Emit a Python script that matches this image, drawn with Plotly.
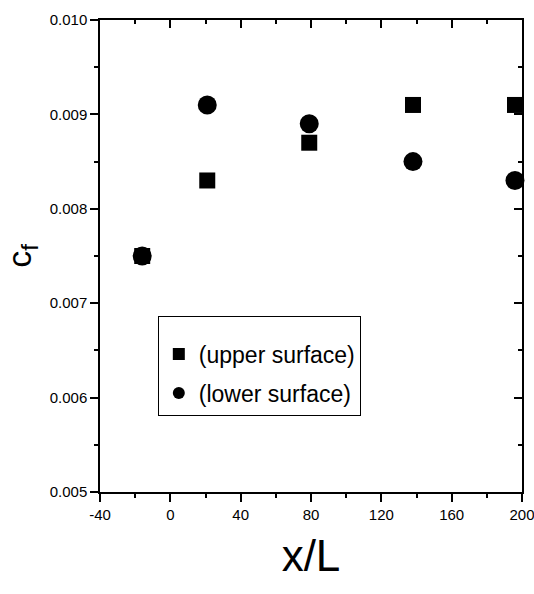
import plotly.graph_objects as go

x_pos = [-16, 21, 79, 138, 196]
cf_upper = [0.0075, 0.0083, 0.0087, 0.0091, 0.0091]
cf_lower = [0.0075, 0.0091, 0.0089, 0.0085, 0.0083]
x_ticks = [-40, 0, 40, 80, 120, 160, 200]
x_tick_labels = ["-40", "0", "40", "80", "120", "160", "200"]
x_range = [-40, 200]
y_range = [0.005, 0.010]

FONT = "Liberation Sans Narrow, Arial Narrow, Liberation Sans, Arial, sans-serif"

fig = go.Figure()
fig.add_trace(go.Scatter(x=x_pos, y=cf_upper, mode="markers", name="(upper surface)",
                         legendgroup="u", cliponaxis=False,
                         marker=dict(symbol="square", size=16, color="black")))
fig.add_trace(go.Scatter(x=x_pos, y=cf_lower, mode="markers", name="(lower surface)",
                         legendgroup="l", cliponaxis=False,
                         marker=dict(symbol="circle", size=19, color="black")))
# helper trace for mirrored inward ticks (top/right)
fig.add_trace(go.Scatter(x=[None], y=[None], xaxis="x2", yaxis="y2",
                         showlegend=False, hoverinfo="skip"))

axis_common = dict(showline=True, linecolor="black", linewidth=1.5, showgrid=False,
                   zeroline=False, tickcolor="black", tickwidth=1.5,
                   ticklabeloverflow="allow", automargin=False,
                   tickfont=dict(family=FONT, size=15, color="black"))

fig.update_layout(
    width=534, height=594,
    margin=dict(l=100, r=12, t=20, b=102),
    plot_bgcolor="white", paper_bgcolor="white",
    font=dict(family=FONT, color="black"),
    xaxis=dict(range=x_range, tickmode="array", tickvals=x_ticks, ticktext=x_tick_labels,
               ticks="outside", ticklen=8,
               minor=dict(ticks="outside", ticklen=4, dtick=20, tick0=-40,
                          tickcolor="black", tickwidth=1.5),
               title=dict(text="x/L", font=dict(family=FONT, size=44), standoff=18),
               **axis_common),
    yaxis=dict(range=y_range, tick0=0.005, dtick=0.001, ticks="outside", ticklen=8,
               tickformat=".3f",
               minor=dict(ticks="outside", ticklen=4, dtick=0.0005, tick0=0.005,
                          tickcolor="black", tickwidth=1.5),
               title=dict(text="c<sub>f</sub>", font=dict(family=FONT, size=34), standoff=22),
               **axis_common),
    xaxis2=dict(range=x_range, overlaying="x", side="top", anchor="y2",
                tick0=-40, dtick=40, ticks="inside", ticklen=8, showticklabels=False,
                minor=dict(ticks="inside", ticklen=4, dtick=20, tick0=-40,
                           tickcolor="black", tickwidth=1.5),
                **axis_common),
    yaxis2=dict(range=y_range, overlaying="y", side="right", anchor="x2",
                tick0=0.005, dtick=0.001, ticks="inside", ticklen=8, showticklabels=False,
                minor=dict(ticks="inside", ticklen=4, dtick=0.0005, tick0=0.005,
                           tickcolor="black", tickwidth=1.5),
                **axis_common),
    legend=dict(x=0.137, y=0.373, xanchor="left", yanchor="top",
                bordercolor="black", borderwidth=1, bgcolor="white",
                font=dict(family=FONT, size=23, color="black"),
                itemsizing="constant", tracegroupgap=6,
                title=dict(text=" ", font=dict(size=12))),
    showlegend=True,
)

fig.write_html("out.html")
